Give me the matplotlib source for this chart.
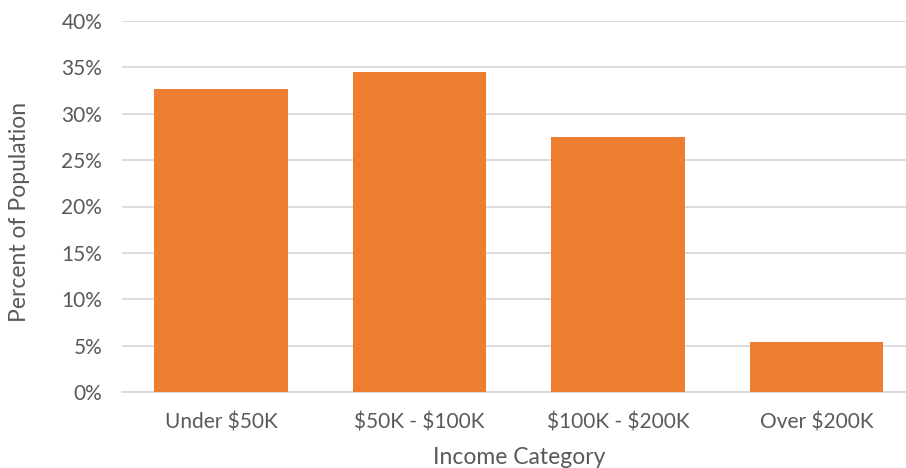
import matplotlib.pyplot as plt
from matplotlib.ticker import PercentFormatter

categories = ["Under $50K", "$50K - $100K", "$100K - $200K", "Over $200K"]
percent = [32.7, 34.5, 27.5, 5.4]
y_ticks = [0, 5, 10, 15, 20, 25, 30, 35, 40]

plt.rcParams['font.family'] = ['Lato', 'DejaVu Sans']
plt.rcParams['text.parse_math'] = False
text_color = "#595959"

fig = plt.figure(figsize=(9.06, 4.68), dpi=100)
ax = fig.add_axes([121.7 / 906, 76 / 468, 794 / 906, 371 / 468])

x = range(len(categories))
ax.bar(x, percent, width=0.672, color="#ED7D31", zorder=3)

ax.set_xlim(-0.5, len(categories) - 0.5)
ax.set_ylim(0, 40)
ax.set_yticks(y_ticks)
ax.yaxis.set_major_formatter(PercentFormatter(decimals=0))
ax.set_xticks(list(x))
ax.set_xticklabels(categories)

ax.grid(axis="y", color="#D9D9D9", linewidth=1.3, zorder=0)
for side in ["top", "right", "left"]:
    ax.spines[side].set_visible(False)
ax.spines["bottom"].set_color("#D9D9D9")
ax.spines["bottom"].set_linewidth(1.3)

ax.tick_params(axis="both", length=0, colors=text_color, labelsize=15)
ax.tick_params(axis="y", pad=14)
ax.tick_params(axis="x", pad=15)

ax.set_xlabel("Income Category", fontsize=16.5, color=text_color, labelpad=10)
ax.set_ylabel("Percent of Population", fontsize=16.5, color=text_color)
ax.yaxis.set_label_coords(-0.116, 0.485)

fig.savefig("out.png", dpi=100)
